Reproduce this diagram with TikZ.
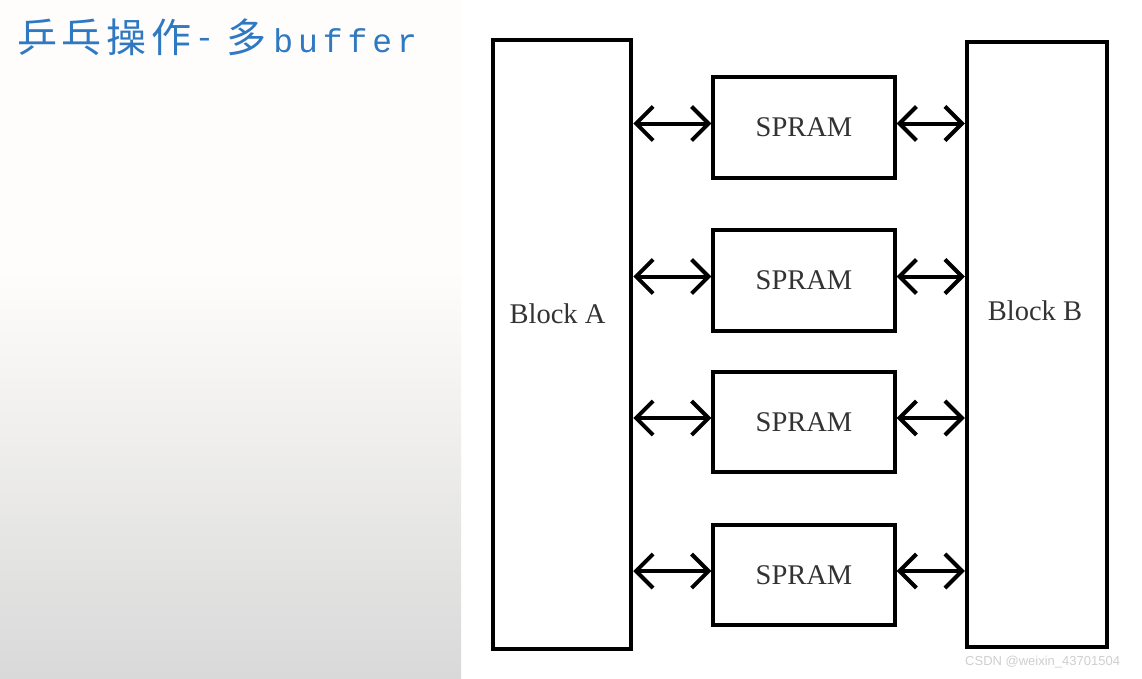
\documentclass[tikz,border=0pt]{standalone}
\usepackage{fontspec}
\setmainfont{Liberation Serif}
\newfontfamily\cjk[LetterSpace=12]{Noto Sans CJK SC}
\newfontfamily\monof[LetterSpace=15]{Liberation Mono}
\newfontfamily\wmfont{Liberation Sans}
\usetikzlibrary{arrows.meta,calc}
\definecolor{titleblue}{HTML}{2F78C2}
\definecolor{txtgray}{HTML}{333333}
\definecolor{bggray}{HTML}{D9D9D9}
\definecolor{topwhite}{HTML}{FEFDFB}
\definecolor{wmgray}{HTML}{CFCFCF}
\begin{document}
\begin{tikzpicture}[x=1pt,y=-1pt,
  blockbox/.style={draw=black, line width=4.5pt, fill=white, inner sep=0pt},
  rambox/.style={draw=black, line width=3.2pt, fill=white, inner sep=0pt,
    minimum width=182pt, minimum height=101pt, text=txtgray,
    font=\fontsize{28.5}{30}\selectfont},
  lbl/.style={text=txtgray, font=\fontsize{28.5}{30}\selectfont, anchor=base, inner sep=0pt},
  biarr/.style={line width=4pt,
    {Straight Barb[length=17pt,width=34pt]}-{Straight Barb[length=17pt,width=34pt]}}
]
\useasboundingbox (0,0) rectangle (1142,678);
\fill[white] (0,0) rectangle (1142,678);
\fill[topwhite] (0,0) rectangle (461,272);
\shade[top color=topwhite, bottom color=bggray] (0,270) rectangle (461,678);

% title
\node[anchor=base west, inner sep=0pt, text=titleblue] (title) at (17,52.5)
  {{\fontsize{40}{44}\selectfont\cjk 乒乓操作}\hspace{3pt}{\fontsize{33}{36}\selectfont\monof\raisebox{4pt}{-}}\hspace{12pt}{\fontsize{40}{44}\selectfont\cjk 多}\hspace{7pt}{\fontsize{33}{36}\selectfont\monof buffer}};

% blocks
\node[blockbox, minimum width=138pt, minimum height=609pt] (A) at (562,344.5) {};
\node[blockbox, minimum width=140pt, minimum height=605pt] (B) at (1037,344.5) {};
\node[lbl] (Alabel) at ($(A.center)+(-4.5,-21.5)$) {Block A};
\node[lbl] (Blabel) at ($(B.center)+(-2,-24.5)$) {Block B};

% SPRAM boxes
\node[rambox] (s1) at (804,127.5) {SPRAM};
\node[rambox] (s2) at (804,280.5) {SPRAM};
\node[rambox, minimum height=100pt] (s3) at (804,422) {SPRAM};
\node[rambox, minimum height=100pt] (s4) at (804,575) {SPRAM};

% connectors
\foreach \s in {s1,s2,s3,s4}{
  \coordinate (\s l) at ([yshift=4pt]\s.west);
  \coordinate (\s r) at ([yshift=4pt]\s.east);
  \draw[biarr] (A.east |- \s l) -- (\s l);
  \draw[biarr] (\s r) -- (B.west |- \s r);
}

% watermark
\node[anchor=base west, inner sep=0pt, text=wmgray, font=\wmfont\fontsize{13}{15}\selectfont] (wm) at (965,665) {CSDN @weixin\_43701504};
\end{tikzpicture}
\end{document}
